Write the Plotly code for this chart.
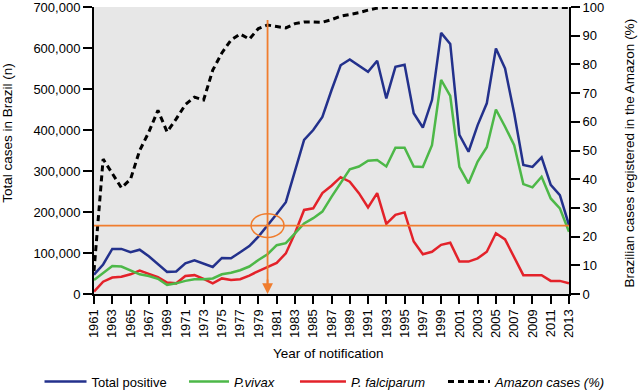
import plotly.graph_objects as go

years = list(range(1961, 2014))
tick_years = [str(y) for y in range(1961, 2014, 2)]
left_ticks = [0, 100000, 200000, 300000, 400000, 500000, 600000, 700000]
right_ticks = [0, 10, 20, 30, 40, 50, 60, 70, 80, 90, 100]

total_positive = [47000, 72000, 110000, 110000, 102000, 108000, 92000, 73000, 54000, 55000,
                  75000, 82000, 74000, 66000, 88000, 87000, 102000, 117000, 140000, 167000,
                  195000, 224000, 300000, 376000, 400000, 432000, 497000, 558000, 572000, 558000,
                  542000, 569000, 477000, 554000, 559000, 441000, 406000, 473000, 637000, 610000,
                  388000, 347000, 412000, 465000, 599000, 550000, 441000, 315000, 310000, 333000,
                  266000, 241000, 168000]

p_vivax = [34000, 50000, 68000, 67000, 58000, 48000, 44000, 37000, 22000, 26000,
           32000, 36000, 36000, 38000, 48000, 52000, 58000, 67000, 83000, 97000,
           119000, 124000, 148000, 172000, 185000, 201000, 237000, 270000, 304000, 311000,
           325000, 327000, 311000, 357000, 357000, 311000, 310000, 363000, 522000, 483000,
           310000, 270000, 323000, 358000, 450000, 408000, 363000, 268000, 260000, 286000,
           233000, 209000, 152000]

p_falciparum = [6000, 30000, 40000, 42000, 48000, 57000, 49000, 41000, 28000, 26000,
                44000, 46000, 37000, 26000, 38000, 34000, 36000, 45000, 56000, 66000,
                76000, 99000, 148000, 205000, 209000, 246000, 264000, 285000, 274000, 246000,
                211000, 246000, 171000, 193000, 199000, 128000, 97000, 103000, 120000, 125000,
                79000, 79000, 87000, 103000, 148000, 133000, 91000, 46000, 46000, 46000,
                32000, 32000, 26000]

amazon_pct = [8, 47, 42, 37, 40, 50, 56.4, 64, 56.5, 61,
              66, 68.6, 67.6, 78, 84, 88.5, 90.6, 88.8, 92.5, 93.7,
              93.2, 92.7, 94.2, 94.8, 94.8, 94.7, 95.6, 96.8, 97.4, 98,
              98.9, 99.6, 99.8, 99.8, 99.8, 99.8, 99.8, 99.8, 99.8, 99.8,
              99.8, 99.8, 99.8, 99.8, 99.8, 99.8, 99.8, 99.8, 99.8, 99.8,
              99.8, 99.8, 99.8]

highlight_year = 1980
highlight_value = total_positive[years.index(highlight_year)]

BLUE = "#23318C"
GREEN = "#4DB848"
RED = "#E3222A"
ORANGE = "#F07D2E"
FONT = "Liberation Sans, Arial, sans-serif"

fig = go.Figure()
fig.add_trace(go.Scatter(x=years, y=amazon_pct, yaxis="y2", mode="lines",
                         name="<i>Amazon cases (%)</i>", legend="legend4",
                         line=dict(color="black", width=3, dash="6px,4px")))
fig.add_trace(go.Scatter(x=years, y=p_falciparum, mode="lines", name="<i>P. falciparum</i>",
                         legend="legend3", line=dict(color=RED, width=2.5)))
fig.add_trace(go.Scatter(x=years, y=p_vivax, mode="lines", name="<i>P.vivax</i>",
                         legend="legend2", line=dict(color=GREEN, width=2.5)))
fig.add_trace(go.Scatter(x=years, y=total_positive, mode="lines", name="Total positive",
                         legend="legend", line=dict(color=BLUE, width=2.5)))

shapes = [
    dict(type="line", xref="x", yref="y", x0=highlight_year, x1=highlight_year,
         y0=20000, y1=668000, line=dict(color=ORANGE, width=1.8), layer="above"),
    dict(type="line", xref="x", yref="y", x0=1961, x1=2013,
         y0=highlight_value, y1=highlight_value, line=dict(color=ORANGE, width=1.8), layer="above"),
    dict(type="circle", xref="x", yref="y", x0=highlight_year - 1.8, x1=highlight_year + 1.8,
         y0=highlight_value - 29000, y1=highlight_value + 29000,
         line=dict(color=ORANGE, width=1.5), layer="above"),
]

annotations = [
    dict(x=highlight_year, y=0, xref="x", yref="y", ax=0, ay=-16, showarrow=True,
         arrowhead=2, arrowsize=1.2, arrowwidth=1.8, arrowcolor=ORANGE, text=""),
    dict(text="Total cases in Brazil (n)", xref="paper", yref="paper", x=-0.1815, y=0.561,
         xanchor="center", yanchor="middle", textangle=-90, showarrow=False,
         font=dict(size=13.5, color="black", family=FONT)),
    dict(text="Brazilian cases registered in the Amazon (%)", xref="paper", yref="paper",
         x=1.1284, y=0.493, xanchor="center", yanchor="middle", textangle=-90, showarrow=False,
         font=dict(size=13.5, color="black", family=FONT)),
    dict(text="Year of notification", xref="paper", yref="paper", x=0.494, y=-0.2056,
         xanchor="center", yanchor="middle", showarrow=False,
         font=dict(size=13.5, color="black", family=FONT)),
]

def leg(xpos, iw):
    return dict(orientation="h", x=xpos, xanchor="left", y=-0.305, yanchor="middle",
                font=dict(size=13, family=FONT, color="black"), itemwidth=iw,
                bgcolor="rgba(0,0,0,0)")

fig.update_layout(
    width=642, height=390,
    margin=dict(l=94, r=73, t=7, b=96, autoexpand=False),
    paper_bgcolor="white", plot_bgcolor="#E7E7E7",
    font=dict(family=FONT, size=13, color="black"),
    showlegend=True,
    legend=leg(-0.1147, 42),
    legend2=leg(0.1895, 40),
    legend3=leg(0.4231, 46),
    legend4=leg(0.7347, 42),
    xaxis=dict(range=[1961, 2013], tickvals=list(range(1961, 2014, 2)), ticktext=tick_years,
               tickangle=-90, ticks="outside", ticklen=8, tickwidth=2, tickcolor="black",
               showline=True, linecolor="black", linewidth=2, showgrid=False, zeroline=False,
               tickfont=dict(size=13), ticklabeloverflow="allow", automargin=False),
    yaxis=dict(range=[0, 700000], tickvals=left_ticks, tickformat=",", ticks="outside",
               ticklen=9, tickwidth=2, tickcolor="black", showline=True, linecolor="black",
               linewidth=2, showgrid=False, zeroline=False, tickfont=dict(size=13),
               ticklabeloverflow="allow", automargin=False),
    yaxis2=dict(range=[0, 100], tickvals=right_ticks, overlaying="y", side="right",
                ticks="outside", ticklen=9, tickwidth=2, tickcolor="black", showline=True,
                linecolor="black", linewidth=2, showgrid=False, zeroline=False,
                tickfont=dict(size=13), ticklabeloverflow="allow", automargin=False),
    shapes=shapes,
    annotations=annotations,
)

fig.write_html("out.html", config={"displayModeBar": False},
               post_script="document.body.style.margin='0';")
